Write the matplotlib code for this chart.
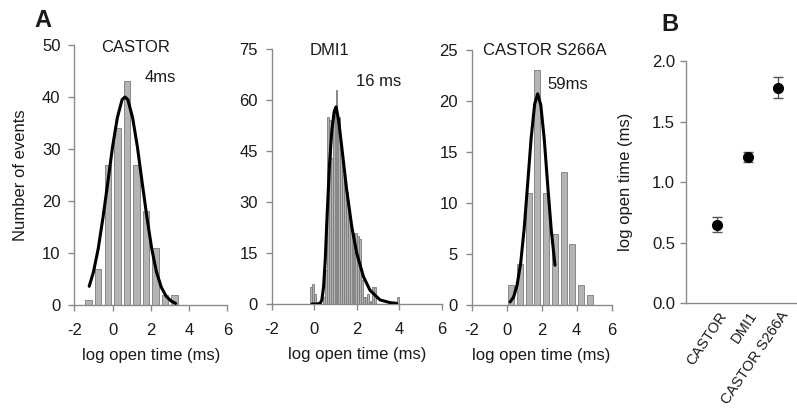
import matplotlib
matplotlib.use("Agg")
import matplotlib.pyplot as plt
import matplotlib.transforms as mtransforms

plt.rcParams['font.family'] = ['Liberation Sans', 'DejaVu Sans']
plt.rcParams['font.size'] = 12
plt.rcParams['axes.unicode_minus'] = False

# --- panel A: CASTOR ---
castor_bins = [-1.25, -0.75, -0.25, 0.25, 0.75, 1.25, 1.75, 2.25, 2.75, 3.25]
castor_counts = [1, 7, 27, 34, 43, 27, 18, 11, 2, 2]
castor_fit_x = [-1.22, -1.0, -0.75, -0.5, -0.25, 0.0, 0.25, 0.5, 0.65, 0.8,
                1.05, 1.3, 1.55, 1.8, 2.05, 2.3, 2.55, 2.8, 3.05, 3.3]
castor_fit_y = [3.6, 6.3, 10.8, 16.8, 23.5, 30.4, 36.0, 39.5, 40.0, 39.5,
                36.0, 30.4, 23.5, 16.8, 10.8, 6.3, 3.4, 1.7, 0.8, 0.3]

# --- panel A: DMI1 ---
dmi_bins = [-0.15, -0.05, 0.05, 0.15, 0.25, 0.35, 0.45, 0.55, 0.65, 0.75,
            0.85, 0.95, 1.05, 1.15, 1.25, 1.35, 1.45, 1.55, 1.65, 1.75,
            1.85, 1.95, 2.05, 2.15, 2.25, 2.35, 2.45, 2.55, 2.65, 2.75,
            2.85, 2.95, 3.05, 3.15, 3.25, 3.35, 3.45, 3.55, 3.65, 3.75,
            3.85, 3.95]
dmi_counts = [5, 6, 3, 0, 0, 0, 2, 10, 55, 54,
              43, 57, 63, 55, 45, 38, 36, 33, 28, 22,
              21, 21, 20, 19, 7, 2, 2, 3, 1, 5,
              5, 0, 0, 0, 0, 0, 0, 0, 0, 0,
              0, 2]
dmi_fit_x = [-0.1, 0.1, 0.28, 0.36, 0.44, 0.52, 0.6, 0.72, 0.83, 0.94, 1.03,
             1.15, 1.3, 1.53, 1.77, 2.0, 2.32, 2.63, 3.1, 3.57, 3.88]
dmi_fit_y = [0.0, 0.0, 0.2, 1.2, 5.0, 13.0, 25.0, 41.0, 51.0, 56.6, 58.0,
             54.0, 46.0, 33.5, 22.7, 15.0, 8.0, 4.0, 1.2, 0.4, 0.2]

# --- panel A: CASTOR S266A ---
s266a_bins = [0.25, 0.75, 1.25, 1.75, 2.25, 2.75, 3.25, 3.75, 4.25, 4.75]
s266a_counts = [2, 4, 11, 23, 11, 7, 13, 6, 2, 1]
s266a_fit_x = [0.2, 0.4, 0.6, 0.8, 1.0, 1.2, 1.4, 1.6, 1.77, 1.95, 2.15,
               2.35, 2.55, 2.76]
s266a_fit_y = [0.3, 0.8, 2.0, 4.1, 7.5, 11.9, 16.4, 19.7, 20.7, 19.6, 16.2,
               11.6, 7.3, 3.9]

# --- panel B ---
genotypes = ['CASTOR', 'DMI1', 'CASTOR S266A']
mean_log_open = [0.65, 1.21, 1.78]
sem_log_open = [0.06, 0.04, 0.085]

spine_col = '#8a8a8a'
bar_face = '#b4b4b4'
bar_edge = '#7a7a7a'
text_col = '#1a1a1a'

fig = plt.figure(figsize=(7.97, 4.09), dpi=100)


def style(ax):
    for s in ['top', 'right']:
        ax.spines[s].set_visible(False)
    for s in ['left', 'bottom']:
        ax.spines[s].set_color(spine_col)
        ax.spines[s].set_linewidth(1.0)
    ax.tick_params(colors=spine_col, labelcolor=text_col, length=4,
                   width=1.0, labelsize=12, direction='out')


panels = [
    ([0.0932, 0.2543, 0.1920, 0.6357], castor_bins, castor_counts, 0.5, 0.68,
     castor_fit_x, castor_fit_y, 50, 10, 'CASTOR', (1.22, 49.6), '4ms', (2.5, 43.8)),
    ([0.3409, 0.2567, 0.2133, 0.6235], dmi_bins, dmi_counts, 0.1, 0.9,
     dmi_fit_x, dmi_fit_y, 75, 15, 'DMI1', (0.73, 74.7), '16 ms', (3.05, 65.4)),
    ([0.5918, 0.2543, 0.1757, 0.6235], s266a_bins, s266a_counts, 0.5, 0.68,
     s266a_fit_x, s266a_fit_y, 25, 5, 'CASTOR S266A', (2.19, 24.9), '59ms', (3.47, 21.6)),
]

axes = []
for rect, bins, counts, w, frac, fx, fy, ymax, ystep, title, tpos, dwell, dpos in panels:
    ax = fig.add_axes(rect)
    style(ax)
    ax.bar(bins, counts, width=w * frac, color=bar_face, edgecolor=bar_edge,
           linewidth=0.6, zorder=2)
    ax.plot(fx, fy, color='black', lw=2.2, zorder=3, solid_capstyle='round')
    ax.set_xlim(-2, 6)
    ax.set_ylim(0, ymax)
    ax.set_xticks([-2, 0, 2, 4, 6])
    ax.set_yticks(range(0, ymax + 1, ystep))
    ax.tick_params(axis='x', pad=9)
    ax.tick_params(axis='y', pad=6)
    ax.set_xlabel('log open time (ms)', fontsize=12, color=text_col, labelpad=7)
    ax.text(tpos[0], tpos[1], title, ha='center', va='center', fontsize=12,
            color=text_col)
    ax.text(dpos[0], dpos[1], dwell, ha='center', va='center', fontsize=12,
            color=text_col)
    axes.append(ax)

axes[0].set_ylabel('Number of events', fontsize=12, color=text_col)
axes[0].yaxis.set_label_coords(-0.30, 0.5)

# panel B
axb = fig.add_axes([0.8603, 0.2584, 0.1397, 0.5924])
style(axb)
pos = [1, 2, 3]
axb.errorbar(pos, mean_log_open, yerr=sem_log_open, fmt='o', color='black',
             ecolor='#555555', elinewidth=1.0, capsize=3.5, capthick=1.0,
             markersize=7)
axb.set_xlim(0, 3.6)
axb.set_ylim(0, 2.0)
axb.set_yticks([0.0, 0.5, 1.0, 1.5, 2.0])
axb.set_yticklabels(['0.0', '0.5', '1.0', '1.5', '2.0'])
axb.set_xticks(pos)
axb.set_xticklabels(genotypes, rotation=56, ha='right', va='center',
                    rotation_mode='anchor', fontsize=10.5)
axb.tick_params(axis='x', length=0, pad=7)
shift = mtransforms.ScaledTranslation(5 / 72, 0, fig.dpi_scale_trans)
for lab in axb.get_xticklabels():
    lab.set_transform(lab.get_transform() + shift)
axb.set_ylabel('log open time (ms)', fontsize=12, color=text_col)
axb.yaxis.set_label_coords(-0.47, 0.5)

fig.text(0.054, 0.9487, 'A', fontsize=17, fontweight='bold', ha='center',
         va='center', color=text_col)
fig.text(0.8407, 0.9413, 'B', fontsize=17, fontweight='bold', ha='center',
         va='center', color=text_col)

fig.savefig('out.png', dpi=100)
